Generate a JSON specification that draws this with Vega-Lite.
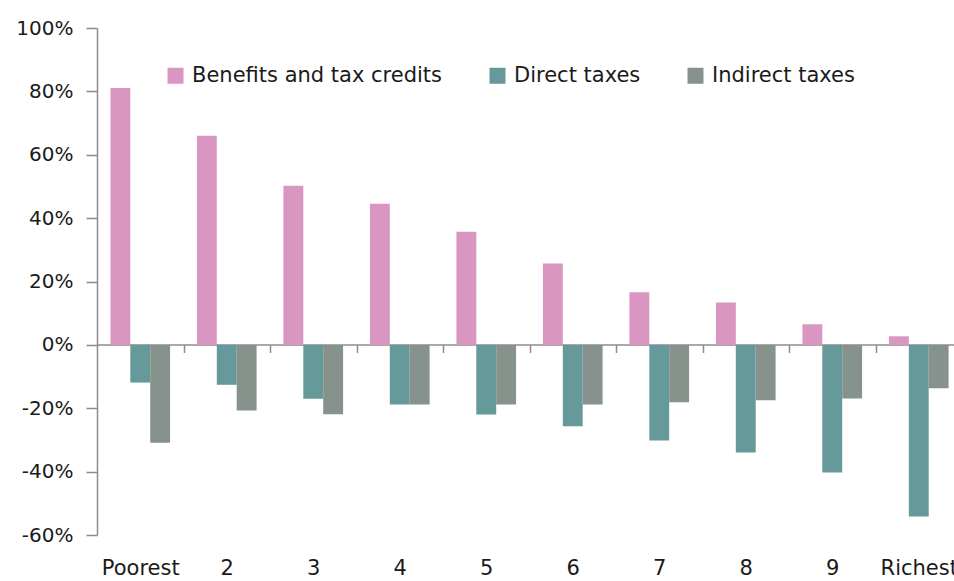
{
  "$schema": "https://vega.github.io/schema/vega-lite/v6.json",
  "autosize": "none",
  "padding": {"left": 97, "top": 28, "right": 0, "bottom": 46},
  "width": 865,
  "height": 507,
  "background": "white",
  "data": {
    "values": [
      {"decile": "Poorest", "series": "Benefits and tax credits", "value": 0.811},
      {"decile": "Poorest", "series": "Direct taxes", "value": -0.119},
      {"decile": "Poorest", "series": "Indirect taxes", "value": -0.309},
      {"decile": "2", "series": "Benefits and tax credits", "value": 0.66},
      {"decile": "2", "series": "Direct taxes", "value": -0.126},
      {"decile": "2", "series": "Indirect taxes", "value": -0.207},
      {"decile": "3", "series": "Benefits and tax credits", "value": 0.502},
      {"decile": "3", "series": "Direct taxes", "value": -0.17},
      {"decile": "3", "series": "Indirect taxes", "value": -0.219},
      {"decile": "4", "series": "Benefits and tax credits", "value": 0.445},
      {"decile": "4", "series": "Direct taxes", "value": -0.188},
      {"decile": "4", "series": "Indirect taxes", "value": -0.188},
      {"decile": "5", "series": "Benefits and tax credits", "value": 0.357},
      {"decile": "5", "series": "Direct taxes", "value": -0.22},
      {"decile": "5", "series": "Indirect taxes", "value": -0.188},
      {"decile": "6", "series": "Benefits and tax credits", "value": 0.257},
      {"decile": "6", "series": "Direct taxes", "value": -0.257},
      {"decile": "6", "series": "Indirect taxes", "value": -0.188},
      {"decile": "7", "series": "Benefits and tax credits", "value": 0.166},
      {"decile": "7", "series": "Direct taxes", "value": -0.302},
      {"decile": "7", "series": "Indirect taxes", "value": -0.181},
      {"decile": "8", "series": "Benefits and tax credits", "value": 0.134},
      {"decile": "8", "series": "Direct taxes", "value": -0.34},
      {"decile": "8", "series": "Indirect taxes", "value": -0.175},
      {"decile": "9", "series": "Benefits and tax credits", "value": 0.065},
      {"decile": "9", "series": "Direct taxes", "value": -0.403},
      {"decile": "9", "series": "Indirect taxes", "value": -0.169},
      {"decile": "Richest", "series": "Benefits and tax credits", "value": 0.027},
      {"decile": "Richest", "series": "Direct taxes", "value": -0.542},
      {"decile": "Richest", "series": "Indirect taxes", "value": -0.137}
    ]
  },
  "config": {
    "view": {"stroke": null},
    "font": "DejaVu Sans"
  },
  "mark": {"type": "bar"},
  "encoding": {
    "x": {
      "field": "decile",
      "type": "nominal",
      "sort": null,
      "scale": {"paddingInner": 0.31, "paddingOuter": 0.155},
      "axis": {
        "title": null,
        "orient": "bottom",
        "offset": -190.5,
        "labelAngle": 0,
        "domainColor": "#8c8c8c",
        "domainWidth": 1.5,
        "tickBand": "center",
        "tickOffset": 43.25,
        "labelOffset": -43.25,
        "tickColor": "#8c8c8c",
        "tickWidth": 1.5,
        "tickSize": 8,
        "labelPadding": 205,
        "labelFontSize": 21,
        "labelColor": "#1a1a1a",
        "labelFont": "DejaVu Sans"
      }
    },
    "xOffset": {
      "field": "series",
      "type": "nominal",
      "sort": ["Benefits and tax credits", "Direct taxes", "Indirect taxes"],
      "scale": {"paddingInner": 0, "paddingOuter": 0}
    },
    "y": {
      "field": "value",
      "type": "quantitative",
      "scale": {"domain": [-0.6, 1.0], "nice": false, "zero": false},
      "axis": {
        "title": null,
        "format": ".0%",
        "labelExpr": "replace(format(datum.value, '.0%'), '\u2212', '-')",
        "values": [-0.6, -0.4, -0.2, 0, 0.2, 0.4, 0.6, 0.8, 1.0],
        "grid": false,
        "domainColor": "#8c8c8c",
        "domainWidth": 1.5,
        "tickColor": "#8c8c8c",
        "tickWidth": 1.5,
        "tickSize": 11,
        "labelPadding": 13,
        "labelFontSize": 20,
        "labelColor": "#1a1a1a",
        "labelFont": "DejaVu Sans"
      }
    },
    "color": {
      "field": "series",
      "type": "nominal",
      "sort": ["Benefits and tax credits", "Direct taxes", "Indirect taxes"],
      "scale": {
        "domain": ["Benefits and tax credits", "Direct taxes", "Indirect taxes"],
        "range": ["#d896c1", "#669999", "#85938c"]
      },
      "legend": {
        "title": null,
        "orient": "none",
        "direction": "horizontal",
        "legendX": 68,
        "legendY": 37,
        "padding": 0,
        "symbolType": "square",
        "symbolSize": 256,
        "symbolStrokeWidth": 0,
        "symbolOpacity": 1,
        "labelFontSize": 21,
        "labelLimit": 400,
        "labelFont": "DejaVu Sans",
        "labelColor": "#1a1a1a",
        "labelOffset": 6,
        "columnPadding": 44
      }
    }
  }
}
